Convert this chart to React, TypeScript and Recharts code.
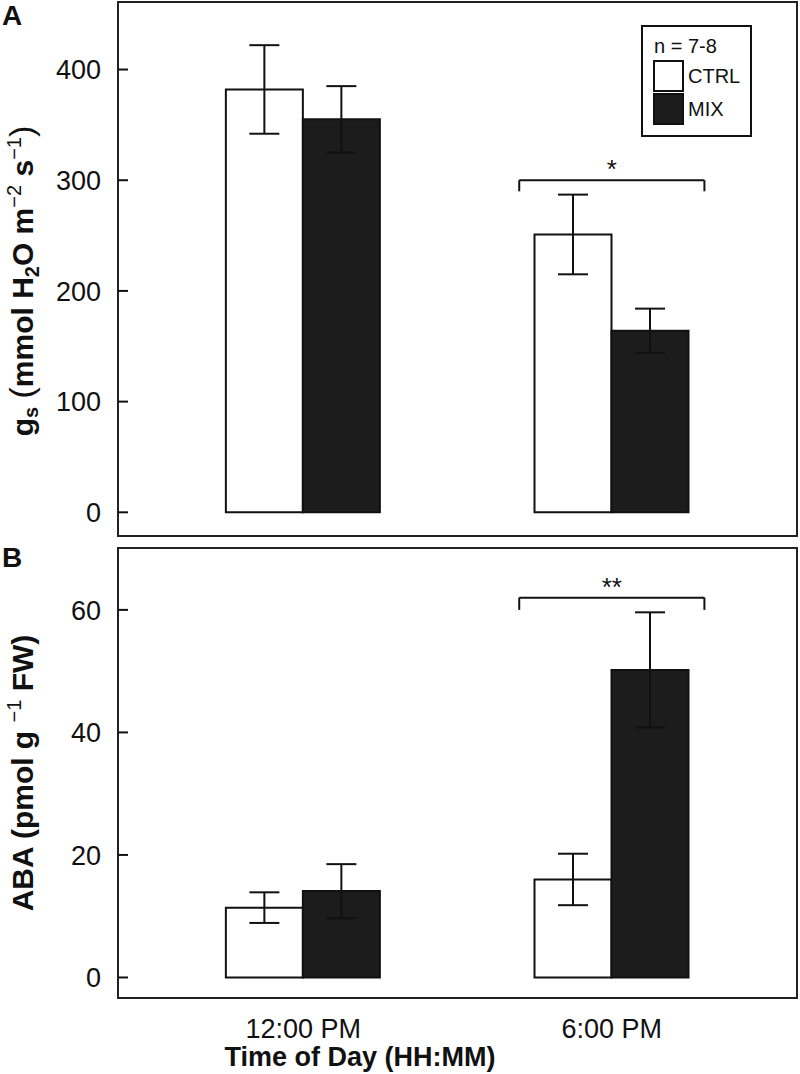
import React from 'react';
import {
  BarChart,
  Bar,
  XAxis,
  YAxis,
  ErrorBar,
  ReferenceArea,
  ReferenceLine,
  Legend,
} from 'recharts';

const categories = ['12:00 PM', '6:00 PM'];
const seriesNames = ['CTRL', 'MIX'];

const gsCtrl = [382, 251];
const gsCtrlSe = [40, 36];
const gsMix = [355, 164];
const gsMixSe = [30, 20];

const abaCtrl = [11.4, 16.0];
const abaCtrlSe = [2.5, 4.2];
const abaMix = [14.1, 50.2];
const abaMixSe = [4.4, 9.4];

const gsTicks = [0, 100, 200, 300, 400];
const abaTicks = [0, 20, 40, 60];

const FONT = '"Liberation Sans", Arial, Helvetica, sans-serif';
const INK = '#111';
const MIX_FILL = '#1c1c1c';

const xDomain = [0.4, 2.6];
const gsDomain = [-21.4, 461];
const abaDomain = [-3.35, 70.1];

const toRows = (ctrl: number[], ctrlSe: number[], mix: number[], mixSe: number[]) =>
  categories.map((c, i) => ({
    pos: i + 1,
    label: c,
    ctrl: ctrl[i],
    ctrlSe: ctrlSe[i],
    mix: mix[i],
    mixSe: mixSe[i],
  }));

const gsRows = toRows(gsCtrl, gsCtrlSe, gsMix, gsMixSe);
const abaRows = toRows(abaCtrl, abaCtrlSe, abaMix, abaMixSe);

// significance brackets: group position, bracket height, tip length
const gsSig = { pos: 2, y: 300, tip: 10, mark: '*' };
const abaSig = { pos: 2, y: 62, tip: 2, mark: '**' };
const HALF = 0.3;

function YTick(props: any) {
  const { x, y, payload } = props;
  return (
    <g>
      <line x1={x} x2={x + 10} y1={y} y2={y} stroke={INK} strokeWidth={2} />
      <text x={x - 17} y={y} dy="0.36em" textAnchor="end" fontSize={27} fontFamily={FONT} fill={INK}>
        {payload.value}
      </text>
    </g>
  );
}

function XTick(props: any) {
  const { x, y, payload } = props;
  return (
    <text x={x} y={y + 40} textAnchor="middle" fontSize={27} fontFamily={FONT} fill={INK}>
      {categories[payload.value - 1]}
    </text>
  );
}

function GsLabel(props: any) {
  const vb = props.viewBox;
  const cx = 33;
  const cy = vb.y + vb.height / 2 + 12;
  return (
    <g fontFamily={FONT} fill={INK}>
      <text x={2} y={25} fontSize={28} fontWeight="bold">A</text>
      <text
        x={cx}
        y={cy}
        transform={`rotate(-90, ${cx}, ${cy})`}
        textAnchor="middle"
        fontSize={30}
        fontWeight="bold"
      >
        <tspan>g</tspan>
        <tspan fontSize={20} dy={5}>s</tspan>
        <tspan dy={-5}> </tspan>
        <tspan fontSize={34} fontWeight="normal">(</tspan>
        <tspan>mmol H</tspan>
        <tspan fontSize={20} dy={6}>2</tspan>
        <tspan dy={-6}>O m</tspan>
        <tspan fontSize={20} fontWeight="normal" dy={-12}>−2</tspan>
        <tspan dy={12}> s</tspan>
        <tspan fontSize={20} fontWeight="normal" dy={-12}>−1</tspan>
        <tspan dy={12} fontSize={34} fontWeight="normal">)</tspan>
      </text>
    </g>
  );
}

function AbaLabel(props: any) {
  const vb = props.viewBox;
  const cx = 33;
  const cy = vb.y + vb.height / 2;
  return (
    <g fontFamily={FONT} fill={INK}>
      <text x={2} y={27} fontSize={28} fontWeight="bold">B</text>
      <text
        x={cx}
        y={cy}
        transform={`rotate(-90, ${cx}, ${cy})`}
        textAnchor="middle"
        fontSize={30}
        fontWeight="bold"
      >
        <tspan>ABA (pmol g </tspan>
        <tspan fontSize={20} fontWeight="normal" dy={-12}>−1</tspan>
        <tspan dy={12}> FW)</tspan>
      </text>
    </g>
  );
}

function TimeTitle(props: any) {
  const vb = props.viewBox;
  return (
    <text
      x={vb.x + 242}
      y={vb.y + 68}
      textAnchor="middle"
      fontSize={27}
      fontWeight="bold"
      fontFamily={FONT}
      fill={INK}
    >
      Time of Day (HH:MM)
    </text>
  );
}

function LegendBox() {
  const fills = ['#fff', MIX_FILL];
  return (
    <div
      style={{
        position: 'relative',
        width: 111,
        height: 112,
        border: `2px solid ${INK}`,
        boxSizing: 'border-box',
        background: '#fff',
        fontFamily: FONT,
        fontSize: 20,
        color: INK,
      }}
    >
      <div style={{ position: 'absolute', left: 11, top: 7, lineHeight: '24px' }}>n = 7-8</div>
      {seriesNames.map((name, i) => (
        <React.Fragment key={name}>
          <div
            style={{
              position: 'absolute',
              left: 10,
              top: 33 + i * 33,
              width: 31,
              height: 32,
              boxSizing: 'border-box',
              border: `2px solid ${INK}`,
              background: fills[i],
            }}
          />
          <div style={{ position: 'absolute', left: 45, top: 37 + i * 33, lineHeight: '24px' }}>{name}</div>
        </React.Fragment>
      ))}
    </div>
  );
}

function sigLines(sig: { pos: number; y: number; tip: number; mark: string }) {
  const x1 = sig.pos - HALF;
  const x2 = sig.pos + HALF;
  return [
    <ReferenceLine
      key="h"
      segment={[{ x: x1, y: sig.y }, { x: x2, y: sig.y }]}
      stroke={INK}
      strokeWidth={2}
      ifOverflow="visible"
      label={{ value: sig.mark, position: 'top', offset: 2, fontSize: 26, fontFamily: FONT, fill: INK }}
    />,
    <ReferenceLine
      key="l"
      segment={[{ x: x1, y: sig.y }, { x: x1, y: sig.y - sig.tip }]}
      stroke={INK}
      strokeWidth={2}
      ifOverflow="visible"
    />,
    <ReferenceLine
      key="r"
      segment={[{ x: x2, y: sig.y }, { x: x2, y: sig.y - sig.tip }]}
      stroke={INK}
      strokeWidth={2}
      ifOverflow="visible"
    />,
  ];
}

function seriesBars() {
  return [
    <Bar key="ctrl" dataKey="ctrl" name="CTRL" fill="#fff" stroke={INK} strokeWidth={2} barSize={77} isAnimationActive={false}>
      <ErrorBar dataKey="ctrlSe" width={15} stroke={INK} strokeWidth={2} isAnimationActive={false} />
    </Bar>,
    <Bar key="mix" dataKey="mix" name="MIX" fill={MIX_FILL} stroke={INK} strokeWidth={2} barSize={77} isAnimationActive={false}>
      <ErrorBar dataKey="mixSe" width={15} stroke={INK} strokeWidth={2} isAnimationActive={false} />
    </Bar>,
  ];
}

export default function App() {
  return (
    <div style={{ position: 'absolute', left: 0, top: 0, width: 800, height: 1074, background: '#fff' }}>
      <BarChart
        width={800}
        height={540}
        data={gsRows}
        barGap={0}
        margin={{ top: 2, right: 3, left: 0, bottom: 4 }}
      >
        <XAxis
          dataKey="pos"
          type="number"
          domain={xDomain}
          ticks={[1, 2]}
          allowDataOverflow
          height={0}
          tick={false}
          tickLine={false}
          axisLine={false}
        />
        <YAxis
          type="number"
          domain={gsDomain}
          ticks={gsTicks}
          allowDataOverflow
          width={118}
          tickSize={0}
          tickMargin={0}
          tick={<YTick />}
          tickLine={false}
          axisLine={false}
          label={(p: any) => <GsLabel {...p} />}
        />
        {seriesBars()}
        {sigLines(gsSig)}
        <ReferenceArea
          x1={xDomain[0]}
          x2={xDomain[1]}
          y1={gsDomain[0]}
          y2={gsDomain[1]}
          fill="none"
          stroke="#222"
          strokeWidth={2}
          ifOverflow="visible"
        />
        <Legend
          layout="vertical"
          align="center"
          verticalAlign="middle"
          wrapperStyle={{ left: 641, top: 25, width: 111 }}
          content={() => <LegendBox />}
        />
      </BarChart>
      <BarChart
        width={800}
        height={534}
        data={abaRows}
        barGap={0}
        margin={{ top: 8, right: 3, left: 0, bottom: 0 }}
      >
        <XAxis
          dataKey="pos"
          type="number"
          domain={xDomain}
          ticks={[1, 2]}
          allowDataOverflow
          height={76}
          tickSize={0}
          tickMargin={0}
          tick={<XTick />}
          tickLine={false}
          axisLine={false}
          label={(p: any) => <TimeTitle {...p} />}
        />
        <YAxis
          type="number"
          domain={abaDomain}
          ticks={abaTicks}
          allowDataOverflow
          width={118}
          tickSize={0}
          tickMargin={0}
          tick={<YTick />}
          tickLine={false}
          axisLine={false}
          label={(p: any) => <AbaLabel {...p} />}
        />
        {seriesBars()}
        {sigLines(abaSig)}
        <ReferenceArea
          x1={xDomain[0]}
          x2={xDomain[1]}
          y1={abaDomain[0]}
          y2={abaDomain[1]}
          fill="none"
          stroke="#222"
          strokeWidth={2}
          ifOverflow="visible"
        />
      </BarChart>
    </div>
  );
}
